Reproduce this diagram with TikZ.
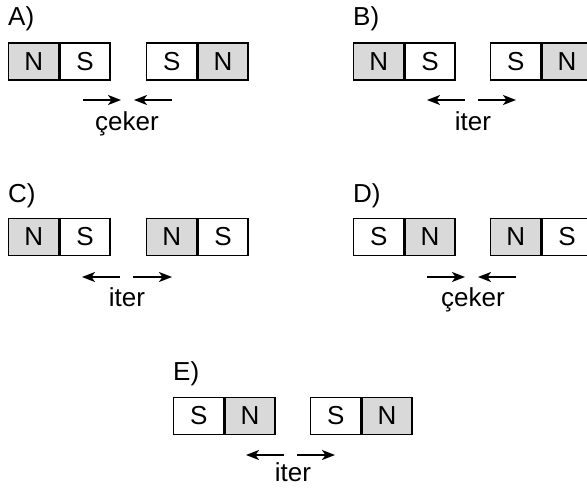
\documentclass[tikz,border=0pt]{standalone}
\usepackage{fontspec}
\setmainfont{Liberation Sans}
\usetikzlibrary{arrows.meta}
\definecolor{polegray}{HTML}{D9D9D9}
\tikzset{
  cell/.style={draw=black, line width=1.4pt, minimum width=50pt, minimum height=37pt, inner sep=0pt, font=\fontsize{26}{26}\selectfont, anchor=west},
  graycell/.style={cell, fill=polegray},
  whitecell/.style={cell, fill=white},
  lbl/.style={anchor=base west, inner sep=0pt, font=\fontsize{26}{26}\selectfont},
  word/.style={anchor=base, inner sep=0pt, font=\fontsize{26}{26}\selectfont},
  force/.style={line width=2pt, -{Stealth[length=13pt,width=10pt,inset=3.5pt]}}
}
\begin{document}
\begin{tikzpicture}[x=1pt,y=-1pt]
\useasboundingbox (0,0) rectangle (587,490);
\clip (0,0) rectangle (587,490);
% A
\node[lbl] (la) at (8,25) {A)};
\node[graycell]  (a1) at (8,61.5) {N};
\node[whitecell] (a2) at (a1.east) {S};
\node[whitecell] (a3) at (146,61.5) {S};
\node[graycell]  (a4) at (a3.east) {N};
\coordinate (a5) at (83,100); \coordinate (a6) at (121,100);
\coordinate (a7) at (172,100); \coordinate (a8) at (134,100);
\draw[force] (a5) -- (a6);
\draw[force] (a7) -- (a8);
\node[word] (aw) at (127,130) {çeker};
% B
\node[lbl] (lb) at (353,25) {B)};
\node[graycell]  (b1) at (353,61.5) {N};
\node[whitecell] (b2) at (b1.east) {S};
\node[whitecell] (b3) at (490,61.5) {S};
\node[graycell]  (b4) at (b3.east) {N};
\coordinate (b5) at (465,100); \coordinate (b6) at (427,100);
\coordinate (b7) at (478,100); \coordinate (b8) at (516,100);
\draw[force] (b5) -- (b6);
\draw[force] (b7) -- (b8);
\node[word] (bw) at (473,130) {iter};
% C
\node[lbl] (lc) at (8,202) {C)};
\node[graycell]  (c1) at (8,237) {N};
\node[whitecell] (c2) at (c1.east) {S};
\node[graycell]  (c3) at (146,237) {N};
\node[whitecell] (c4) at (c3.east) {S};
\coordinate (c5) at (120,277); \coordinate (c6) at (82,277);
\coordinate (c7) at (133,277); \coordinate (c8) at (172,277);
\draw[force] (c5) -- (c6);
\draw[force] (c7) -- (c8);
\node[word] (cw) at (127,306) {iter};
% D
\node[lbl] (ld) at (353,202) {D)};
\node[whitecell] (d1) at (353,237) {S};
\node[graycell]  (d2) at (d1.east) {N};
\node[graycell]  (d3) at (490,237) {N};
\node[whitecell] (d4) at (d3.east) {S};
\coordinate (d5) at (427,277); \coordinate (d6) at (465,277);
\coordinate (d7) at (516,277); \coordinate (d8) at (478,277);
\draw[force] (d5) -- (d6);
\draw[force] (d7) -- (d8);
\node[word] (dw) at (473,306) {çeker};
% E
\node[lbl] (le) at (173,380) {E)};
\node[whitecell] (e1) at (173,416) {S};
\node[graycell]  (e2) at (e1.east) {N};
\node[whitecell] (e3) at (310,416) {S};
\node[graycell]  (e4) at (e3.east) {N};
\coordinate (e5) at (284,455); \coordinate (e6) at (246,455);
\coordinate (e7) at (297,455); \coordinate (e8) at (335,455);
\draw[force] (e5) -- (e6);
\draw[force] (e7) -- (e8);
\node[word] (ew) at (293,481) {iter};
\end{tikzpicture}
\end{document}
